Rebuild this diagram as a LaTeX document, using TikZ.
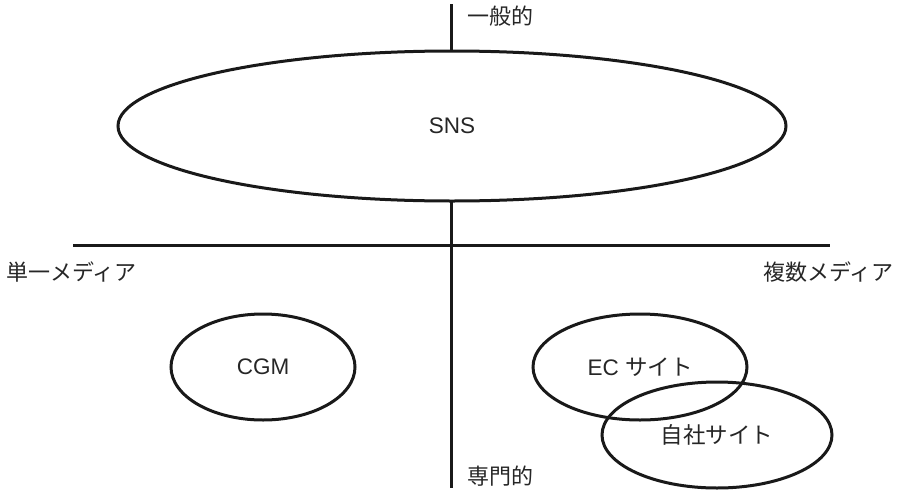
\documentclass[tikz,border=0pt]{standalone}
\usepackage{fontspec}
\setmainfont{Liberation Sans}
\newfontfamily\jp{Noto Sans CJK JP}
\usetikzlibrary{shapes.geometric}
\begin{document}
\begin{tikzpicture}[x=1pt,y=-1pt,
  axisline/.style={line width=3pt,draw=black!90},
  oval/.style={ellipse,draw=black!90,line width=3pt,inner sep=0pt,font=\fontsize{22.5}{24}\selectfont,text=black!85},
  lbl/.style={inner sep=0pt,font=\fontsize{22}{24}\selectfont\jp,text=black!85}]
\useasboundingbox (0,0) rectangle (899,490);
\coordinate (top) at (451,4);
\coordinate (bot) at (451,488);
\coordinate (lft) at (73,245);
\coordinate (rgt) at (830,245);
\draw[axisline] (top) -- (bot);
\draw[axisline] (lft) -- (rgt);
\node[oval,fill=white,minimum width=668pt,minimum height=150pt] (sns) at (452,126) {SNS};
\node[oval,minimum width=184pt,minimum height=106pt] (cgm) at (263,367) {CGM};
\node[oval,minimum width=214pt,minimum height=106pt] (ec) at (640,367) {EC {\jp サイト}};
\node[oval,minimum width=230pt,minimum height=106pt] (jisha) at (717,435) {\jp 自社サイト};
\node[lbl,anchor=west] (ippan) at (467,16) {一般的};
\node[lbl,anchor=west] (senmon) at (467,476) {専門的};
\node[lbl,anchor=west] (tan) at (6,272) {単一メディア};
\node[lbl,anchor=east] (fuku) at (894,272) {複数メディア};
\end{tikzpicture}
\end{document}
